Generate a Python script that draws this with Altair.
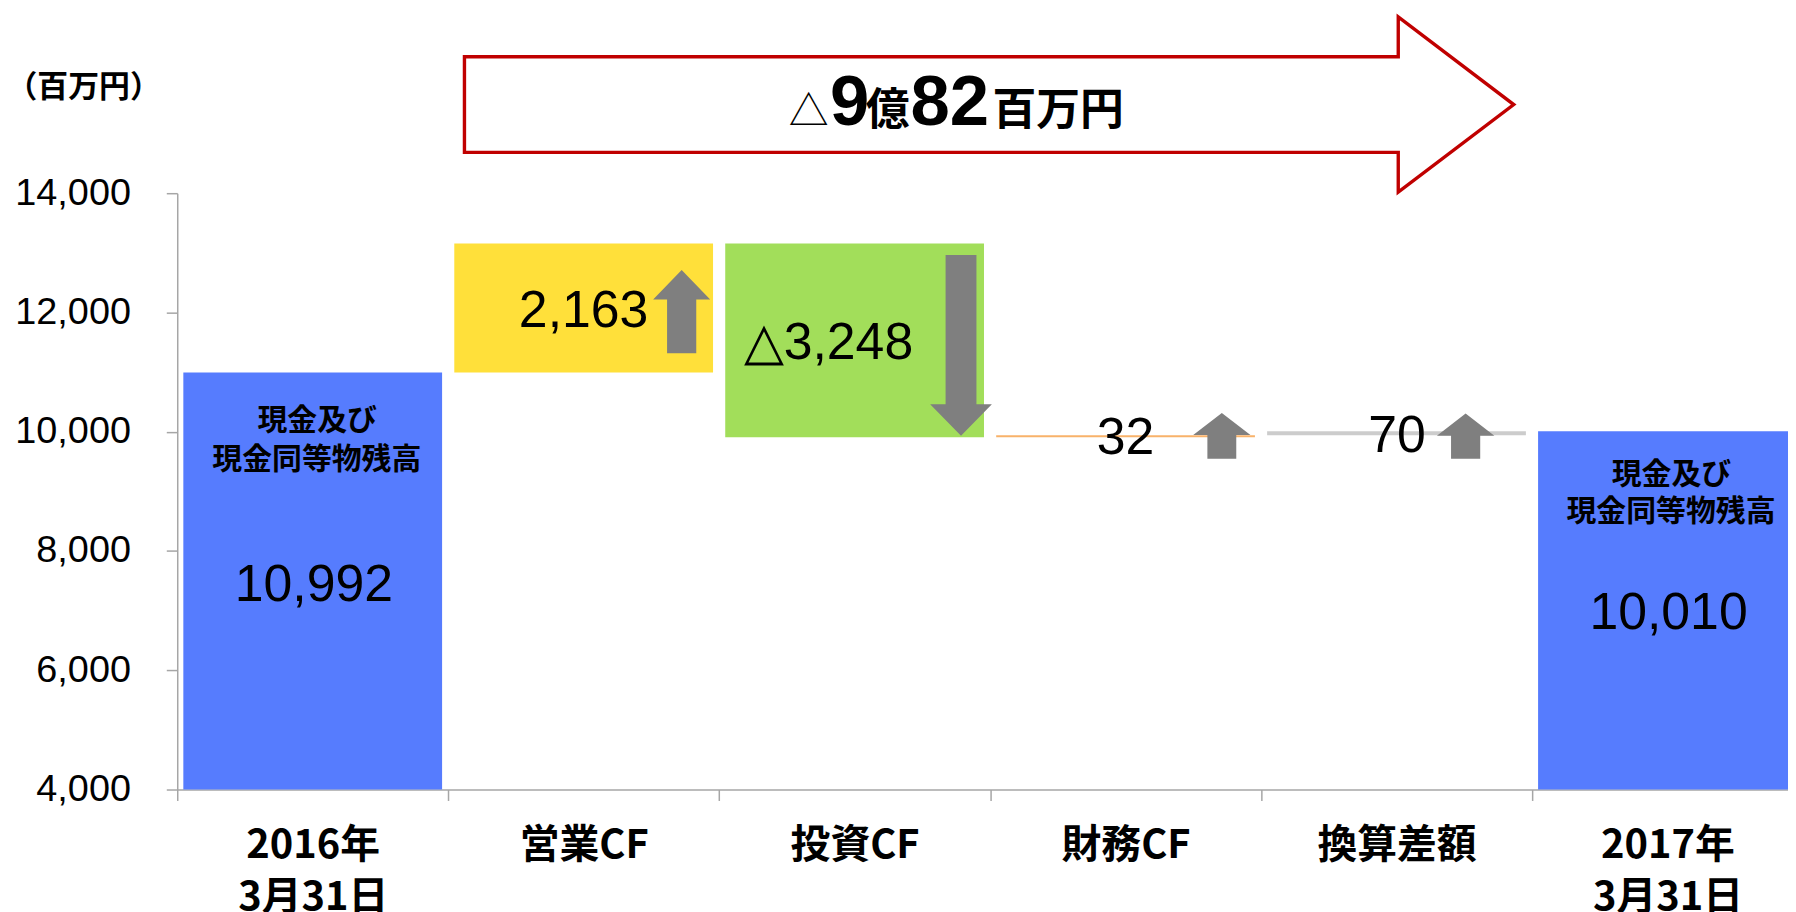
import altair as alt
import pandas as pd

# ------------------------------------------------------------------ data
categories = ["2016年\n3月31日", "営業CF", "投資CF", "財務CF", "換算差額", "2017年\n3月31日"]
opening_balance = 10992
flow_values = [2163, -3248, 32, 70]
closing_balance = 10010
balance_labels = ["10,992", "10,010"]
flow_labels = ["2,163", "△3,248", "32", "70"]
balance_caption = ["現金及び", "現金同等物残高"]
total_change_parts = ["△", "9", "億", "82", "百万円"]
unit_label = "（百万円）"
y_ticks = [4000, 6000, 8000, 10000, 12000, 14000]

# ------------------------------------------------------------------ styles / layout
bar_colors = ["#567CFE", "#FFE03A", "#A2DE5A", "#F8B26A", "#CCCCCC", "#567CFE"]
AXIS_GREY = "#A6A6A6"
ARROW_GREY = "#7F7F7F"
RED = "#C00000"
CJK = "Noto Sans CJK JP"
NUM = "Liberation Sans"
BAND_RANGE = 1633          # six bands; the last one runs off the page like the original
PLOT_W, PLOT_H = 1618, 599
Y_DOMAIN = [4000, 14000]

# waterfall bar extents
lows, highs = [0], [opening_balance]
running = opening_balance
for v in flow_values:
    lows.append(running)
    highs.append(running + v)
    running += v
lows.append(0)
highs.append(closing_balance)
bars = pd.DataFrame({"category": categories, "low": lows, "high": highs})

y_scale = alt.Scale(domain=Y_DOMAIN, nice=False, zero=False)
y_axis = alt.Axis(values=y_ticks, labelExpr="format(datum.value, ',d')", tickSize=11,
                  labelPadding=36, labelFont=NUM, labelFontSize=38, labelColor="black",
                  domainColor=AXIS_GREY, tickColor=AXIS_GREY, domainWidth=1.5,
                  tickWidth=1.5, grid=False, labelLimit=0, title=None)


def ann_x(field):
    return alt.X(f"{field}:Q", scale=alt.Scale(domain=[0, 6], range=[0, BAND_RANGE],
                                               nice=False, zero=False), axis=None)


def ann_y(field):
    return alt.Y(f"{field}:Q", scale=y_scale, axis=y_axis, title=None)


bar_layer = alt.Chart(bars).mark_bar(clip=True, width=alt.RelativeBandSize(0.955)).encode(
    x=alt.X("category:N", title=None,
            scale=alt.Scale(domain=categories, range=[0, BAND_RANGE],
                            paddingInner=0, paddingOuter=0),
            axis=alt.Axis(labelExpr="split(datum.label, '\\n')", labelAngle=0,
                          tickBand="extent", tickSize=11, labelPadding=25,
                          labelFont=CJK, labelFontSize=40, labelFontWeight="bold",
                          labelColor="black", labelLineHeight=53, labelBaseline="top",
                          labelLimit=0, domainColor=AXIS_GREY, tickColor=AXIS_GREY,
                          domainWidth=1.5, tickWidth=1.5)),
    y=alt.Y("low:Q", scale=y_scale, title=None, axis=y_axis),
    y2="high:Q",
    color=alt.Color("category:N", scale=alt.Scale(domain=categories, range=bar_colors),
                    legend=None),
)

# value labels on the bars (positions in band units / data units)
val_pos_u = [0.5045, 1.4998, 3.5, 4.502, 5.504]
val_pos_v = [7160, 11763, 9621, 9664, 6688]
val_text = [balance_labels[0], flow_labels[0], flow_labels[2], flow_labels[3], balance_labels[1]]
vals = pd.DataFrame({"u": val_pos_u, "v": val_pos_v, "t": val_text})
val_layer = alt.Chart(vals).mark_text(font=NUM, fontSize=52, color="black",
                                      align="center", baseline="alphabetic").encode(
    x=ann_x("u"), y=ann_y("v"), text="t:N")

neg = pd.DataFrame({"u": [2.0906], "v": [11224], "t": [flow_labels[1]]})
neg_layer = alt.Chart(neg).mark_text(font=NUM, fontSize=52, color="black",
                                     align="left", baseline="alphabetic").encode(
    x=ann_x("u"), y=ann_y("v"), text="t:N")

# captions inside the balance bars
cap = pd.DataFrame({
    "u": [0.5166, 0.5151, 5.5146, 5.5131],
    "v": [10180, 9526, 9270, 8649],
    "t": balance_caption + balance_caption,
})
cap_layer = alt.Chart(cap).mark_text(font=CJK, fontSize=30, fontWeight="bold", color="black",
                                     align="center", baseline="middle").encode(
    x=ann_x("u"), y=ann_y("v"), text="t:N")

# grey direction arrows (custom symbol paths, drawn in pixel units with size=4)


def up_arrow(w, h, s, length):
    return (f"M 0 0 L {w/2} {h} L {s/2} {h} L {s/2} {length} L {-s/2} {length} "
            f"L {-s/2} {h} L {-w/2} {h} Z")


def down_arrow(w, h, s, length):
    return (f"M 0 0 L {w/2} {-h} L {s/2} {-h} L {s/2} {-length} L {-s/2} {-length} "
            f"L {-s/2} {-h} L {-w/2} {-h} Z")


arrows = pd.DataFrame({
    "u": [1.8617, 2.8927, 3.8553, 4.7551],
    "v": [12710, 9932, 10316, 10306],
    "shape": [up_arrow(57.3, 29.4, 29.3, 83.4), down_arrow(62, 31.7, 31, 181.7),
              up_arrow(57.5, 22.3, 29, 46), up_arrow(57.7, 22.4, 29.3, 45.4)],
})
arrow_layer = alt.Chart(arrows).mark_point(filled=True, size=4, color=ARROW_GREY,
                                           opacity=1).encode(
    x=ann_x("u"), y=ann_y("v"), shape=alt.Shape("shape:N", scale=None, legend=None))

# big red outlined arrow on top
red_path = "M -528 -48 L 410 -48 L 410 -88 L 526 0 L 410 88 L 410 48 L -528 48 Z"
red = pd.DataFrame({"u": [3.0], "v": [15486]})
red_layer = alt.Chart(red).mark_point(shape=red_path, size=4, fill="white", stroke=RED,
                                      strokeWidth=3.4, opacity=1, fillOpacity=1,
                                      strokeOpacity=1, strokeJoin="miter").encode(
    x=ann_x("u"), y=ann_y("v"))

title_base_v = 15143
t_tri = pd.DataFrame({"u": [2.3302], "v": [title_base_v], "t": [total_change_parts[0]]})
t_num = pd.DataFrame({"u": [2.4819, 2.8512], "v": [title_base_v] * 2,
                      "t": [total_change_parts[1], total_change_parts[3]]})
t_cjk = pd.DataFrame({"u": [2.6215, 3.2513], "v": [title_base_v] * 2,
                      "t": [total_change_parts[2], total_change_parts[4]]})
tri_layer = alt.Chart(t_tri).mark_text(font=CJK, fontSize=40, color="black",
                                       align="center", baseline="alphabetic").encode(
    x=ann_x("u"), y=ann_y("v"), text="t:N")
num_layer = alt.Chart(t_num).mark_text(font=NUM, fontSize=71, fontWeight="bold",
                                       color="black", align="center",
                                       baseline="alphabetic").encode(
    x=ann_x("u"), y=ann_y("v"), text="t:N")
cjk_layer = alt.Chart(t_cjk).mark_text(font=CJK, fontSize=44, fontWeight="bold",
                                       color="black", align="center",
                                       baseline="alphabetic").encode(
    x=ann_x("u"), y=ann_y("v"), text="t:N")

unit = pd.DataFrame({"u": [-0.3454], "v": [15771], "t": [unit_label]})
unit_layer = alt.Chart(unit).mark_text(font=CJK, fontSize=31, fontWeight="bold",
                                       color="black", align="center",
                                       baseline="middle").encode(
    x=ann_x("u"), y=ann_y("v"), text="t:N")

chart = alt.layer(
    bar_layer, val_layer, neg_layer, cap_layer, arrow_layer, red_layer,
    tri_layer, num_layer, cjk_layer, unit_layer,
).resolve_scale(x="independent").properties(
    width=PLOT_W, height=PLOT_H,
    autosize=alt.AutoSizeParams(type="none"),
    padding={"left": 170, "top": 184, "right": 0, "bottom": 121},
    background="white",
).configure_view(stroke=None)

chart.save("out.html", embed_options={"renderer": "svg", "actions": False})
